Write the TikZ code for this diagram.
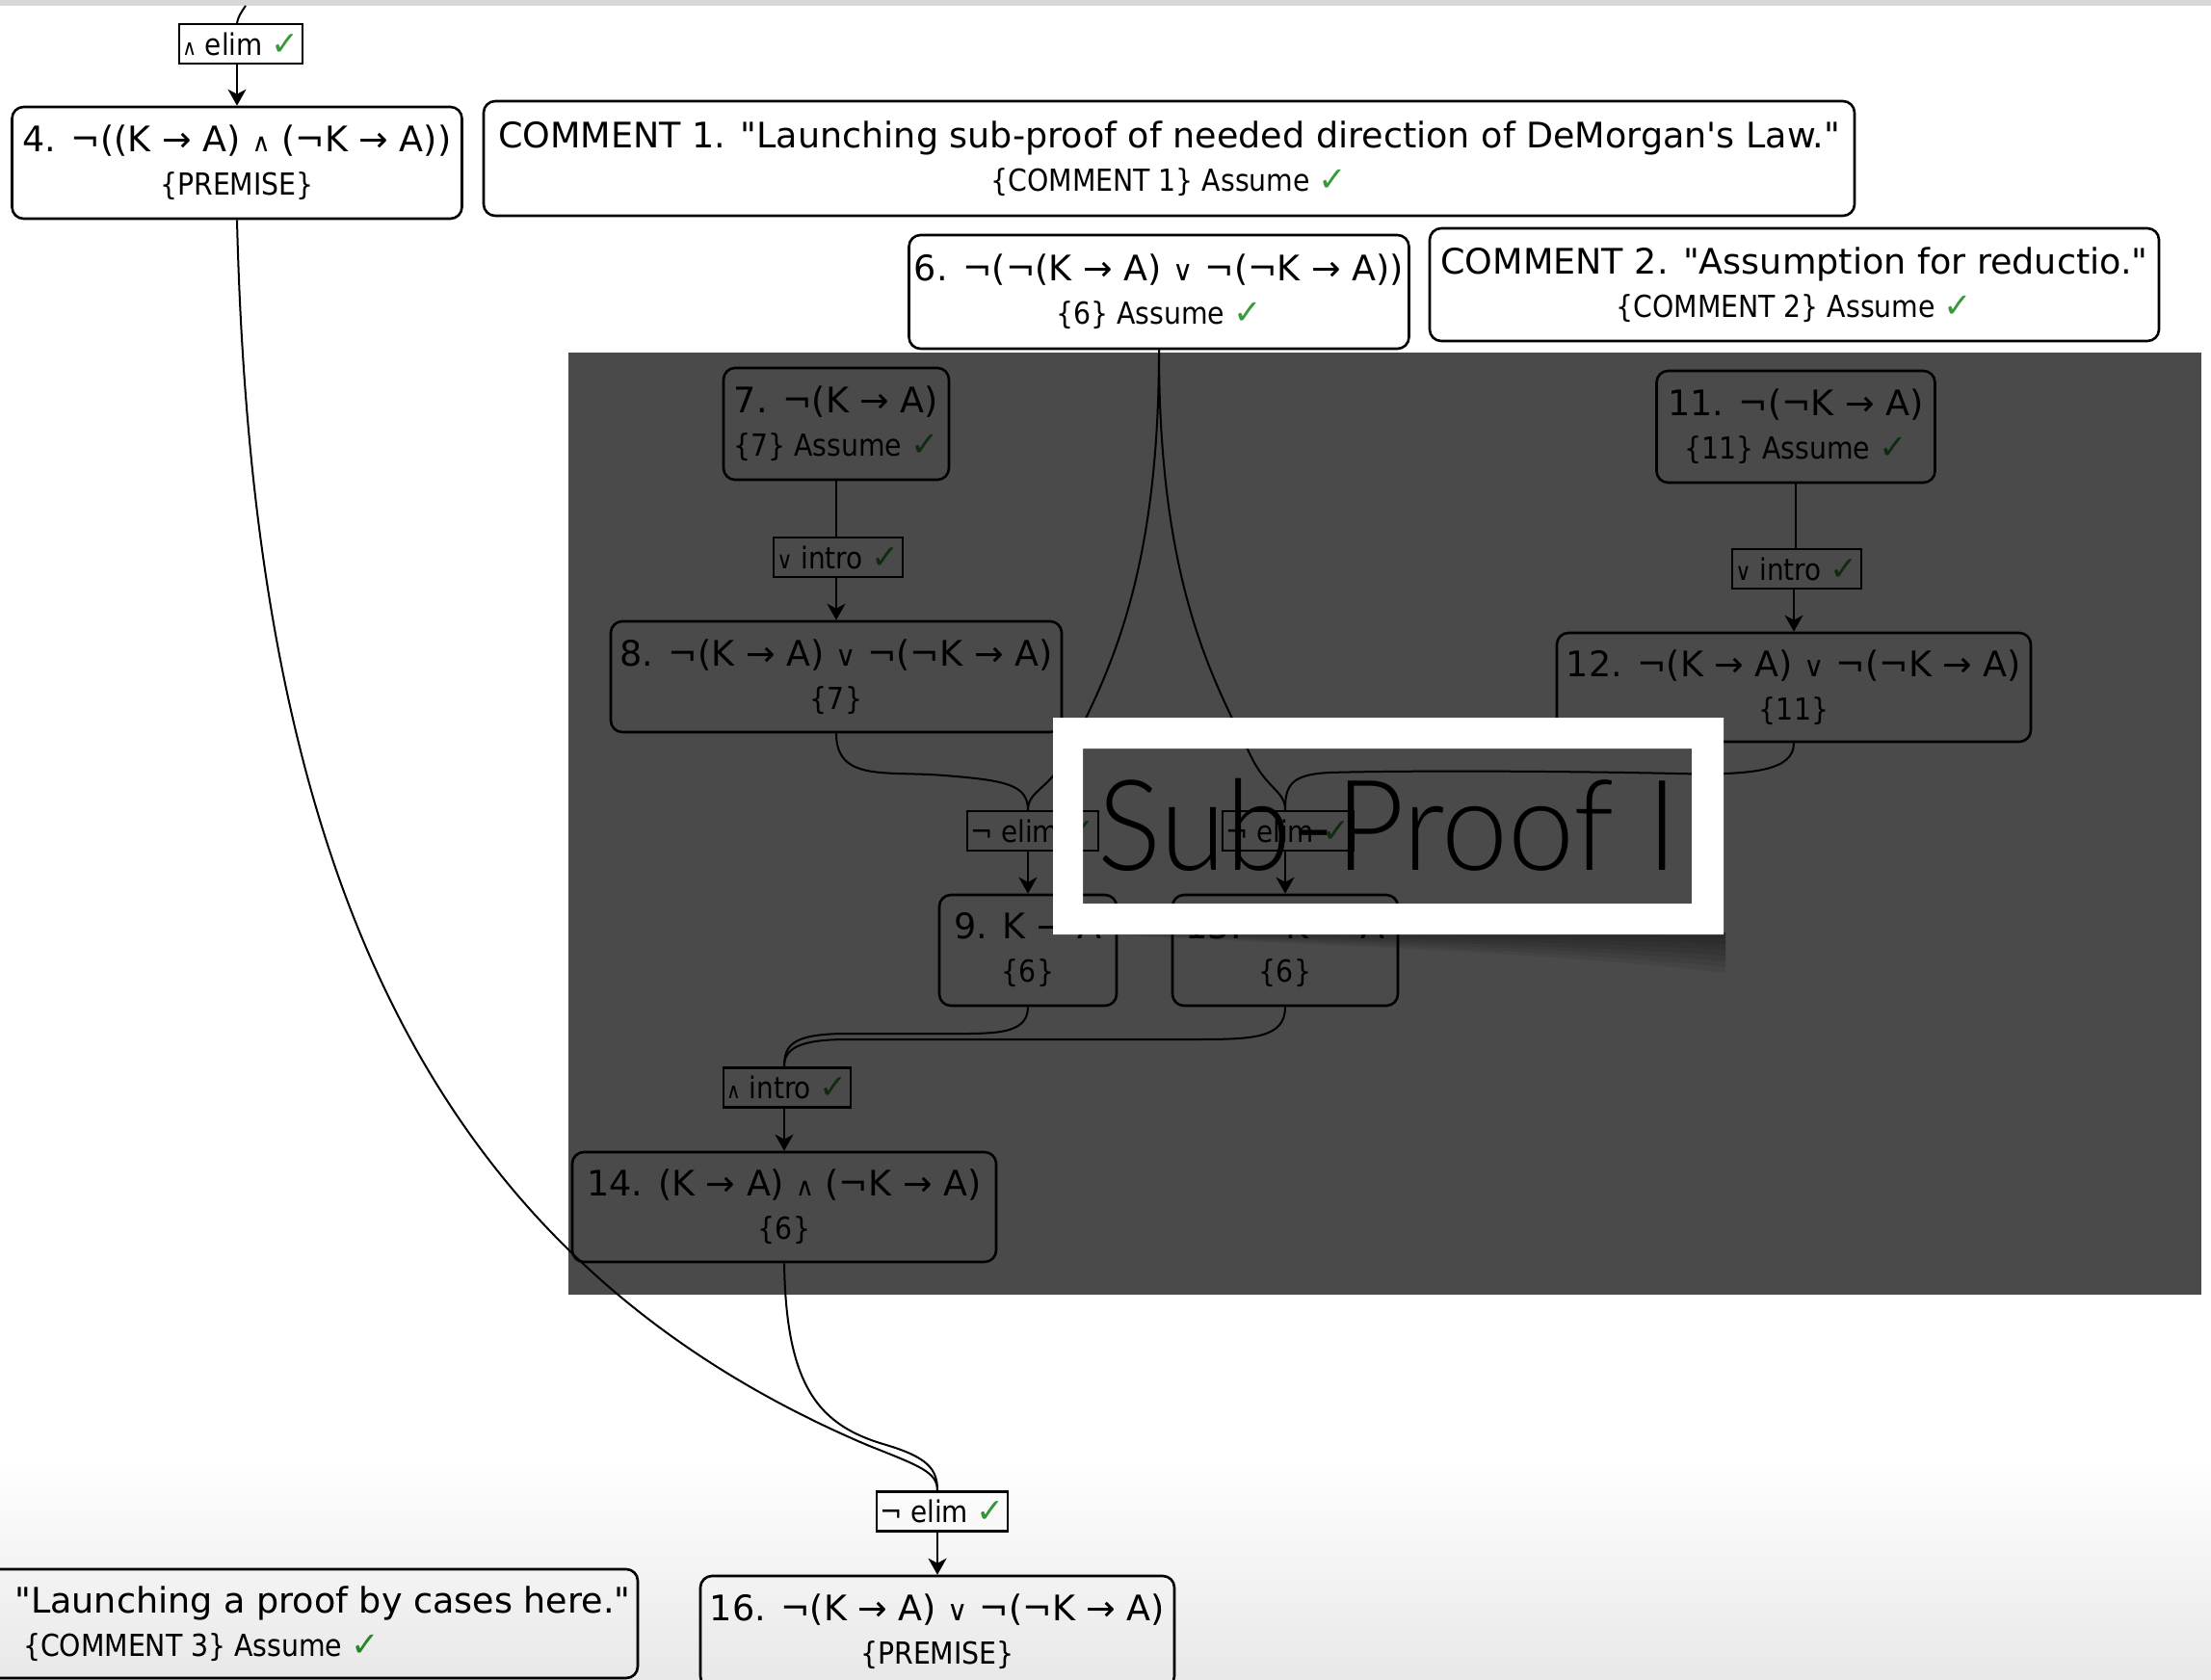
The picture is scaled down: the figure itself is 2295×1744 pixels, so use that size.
\documentclass[tikz,border=0pt]{standalone}
\usepackage{fontspec}
\setmainfont{DejaVu Sans}
\newfontfamily\condf{DejaVu Sans Condensed}
\newfontfamily\symf{DejaVu Sans}
\newfontfamily\thinf{Lato Light}
\usetikzlibrary{arrows.meta}
\definecolor{okgreen}{HTML}{3A9A3A}
\definecolor{barcol}{HTML}{D8D8D8}
\newcommand\gcheck{{\color{okgreen}\symf\scalebox{1.12}{✓}}}
\newcommand\AND{{\scalebox{0.72}{∧}}}
\newcommand\OR{{\scalebox{0.8}{∨}}}
\newcommand\bigf{\fontsize{36.5}{45}\selectfont}
\newcommand\subf{\condf\fontsize{31.5}{45}\selectfont}
\newcommand\rulef{\condf\fontsize{31}{36}\selectfont}
\newcommand\sq{\textquotedbl}
\begin{document}
\begin{tikzpicture}[x=1pt,y=-1pt,
  box/.style={draw, rounded corners=12pt, line width=2.6pt, fill=white, inner sep=0pt, align=center, font=\bigf},
  rulebox/.style={draw, line width=2.2pt, fill=white, inner xsep=3pt, inner ysep=0pt, minimum height=41pt, font=\rulef},
  conn/.style={line width=2pt},
  arr/.style={conn, -{Stealth[length=17pt,width=19pt,inset=5pt]}}]
\useasboundingbox (0,0) rectangle (2295,1744);
\clip (0,0) rectangle (2295,1744);
\fill[white] (0,0) rectangle (2295,1744);
\fill[barcol] (0,0) rectangle (2295,6);

% nodes outside the sub-proof
\node[rulebox] (elimA) at (250,45.5) {\AND{} elim \gcheck};
\node[box, minimum width=467pt, minimum height=116pt] (n4) at (246,169) {4. ¬((K → A) \AND{} (¬K → A))\\{\subf\{PREMISE\}}};
\node[box, minimum width=1423pt, minimum height=119pt] (c1) at (1213.5,164.5) {COMMENT 1. \sq Launching sub-proof of needed direction of DeMorgan\textquotesingle s Law.\sq\\{\subf\{COMMENT 1\} Assume \gcheck}};
\node[box, minimum width=519pt, minimum height=118pt] (n6) at (1203,303) {6. ¬(¬(K → A) \OR{} ¬(¬K → A))\\{\subf\{6\} Assume \gcheck}};
\node[box, minimum width=757pt, minimum height=117pt] (c2) at (1862.5,295.5) {COMMENT 2. \sq Assumption for reductio.\sq\\{\subf\{COMMENT 2\} Assume \gcheck}};

% nodes inside the sub-proof
\node[box, minimum width=234pt, minimum height=116pt] (n7) at (868,440) {7. ¬(K → A)\\{\subf\{7\} Assume \gcheck}};
\node[rulebox] (introA) at (870,578.5) {\OR{} intro \gcheck};
\node[box, minimum width=468pt, minimum height=115pt] (n8) at (868,702.5) {8. ¬(K → A) \OR{} ¬(¬K → A)\\{\subf\{7\}}};
\node[box, minimum width=289pt, minimum height=116pt] (n11) at (1864,443) {11. ¬(¬K → A)\\{\subf\{11\} Assume \gcheck}};
\node[rulebox] (introB) at (1865,590.5) {\OR{} intro \gcheck};
\node[box, minimum width=492pt, minimum height=113pt] (n12) at (1862,713.5) {12. ¬(K → A) \OR{} ¬(¬K → A)\\{\subf\{11\}}};
\node[rulebox] (elimL) at (1072,862.5) {¬ elim \gcheck};
\node[rulebox] (elimR) at (1337,862.5) {¬ elim \gcheck};
\node[box, minimum width=184pt, minimum height=115pt] (n9) at (1067,986.5) {9. K → A\\{\subf\{6\}}};
\node[box, minimum width=234pt, minimum height=115pt] (n13) at (1334,986.5) {13. ¬K → A\\{\subf\{6\}}};
\node[rulebox] (introC) at (817,1129) {\AND{} intro \gcheck};
\node[box, minimum width=440pt, minimum height=114pt] (n14) at (814,1253) {14. (K → A) \AND{} (¬K → A)\\{\subf\{6\}}};

% bottom nodes
\node[rulebox] (elimB) at (978,1569) {¬ elim \gcheck};
\node[box, minimum width=492pt, minimum height=116pt] (n16) at (973,1694) {16. ¬(K → A) \OR{} ¬(¬K → A)\\{\subf\{PREMISE\}}};
\node[box, minimum width=906pt, minimum height=113pt] (c3) at (209,1685.5) {COMMENT 3. \sq Launching a proof by cases here.\sq\\{\subf\{COMMENT 3\} Assume \gcheck}};

% connectors
\coordinate (topin) at (255,6);
\draw[conn] (topin) .. controls (250,13) and (247,18) .. (n4.north |- elimA.north);
\draw[arr] (n4.north |- elimA.south) -- (n4.north);

\draw[conn] (n7.south) -- (n7.south |- introA.north);
\draw[arr] (n8.north |- introA.south) -- (n8.north);
\draw[conn] (n11.south) -- (n11.south |- introB.north);
\draw[arr] (n12.north |- introB.south) -- (n12.north);

\draw[conn] (n8.south) .. controls (868,812) and (920,800) .. (980,805) .. controls (1045,810) and (1067,815) .. (n9.north |- elimL.north);
\draw[conn] (n6.south) .. controls (1203,600) and (1150,700) .. (1110,780) .. controls (1090,820) and (1067,820) .. (n9.north |- elimL.north);
\draw[conn] (n6.south) .. controls (1203,600) and (1256,700) .. (1296,780) .. controls (1314,820) and (1334,820) .. (n13.north |- elimR.north);
\draw[conn] (n12.south) .. controls (1862,800) and (1820,805) .. (1740,803) .. controls (1600,800) and (1450,800) .. (1380,802) .. controls (1340,804) and (1334,815) .. (n13.north |- elimR.north);
\draw[arr] (n9.north |- elimL.south) -- (n9.north);
\draw[arr] (n13.north |- elimR.south) -- (n13.north);

\draw[conn] (n9.south) .. controls (1067,1075) and (1030,1073) .. (980,1073) -- (880,1073) .. controls (822,1073) and (814,1085) .. (n14.north |- introC.north);
\draw[conn] (n13.south) .. controls (1334,1078) and (1300,1079) .. (1240,1079) -- (880,1079) .. controls (826,1079) and (814,1090) .. (n14.north |- introC.north);
\draw[arr] (n14.north |- introC.south) -- (n14.north);

\draw[conn] (n14.south) .. controls (816,1440) and (850,1480) .. (920,1500) .. controls (963,1513) and (973,1525) .. (n16.north |- elimB.north);
\draw[conn] (n4.south) .. controls (262,880) and (430,1300) .. (900,1500) .. controls (955,1522) and (973,1528) .. (n16.north |- elimB.north);
\draw[arr] (n16.north |- elimB.south) -- (n16.north);

% dimming overlay of the sub-proof
\fill[black, opacity=0.71] (590,366) rectangle (2285,1344);

% soft shadow of the label frame
\foreach \d in {6,12,18,24,30,36,42} {
  \fill[black, opacity=0.07] (1093,968) .. controls (1300,{968+0.25*\d}) and (1600,{968+0.45*\d}) .. (1791,{968+\d}) -- (1791,968) -- cycle;
}

% label frame
\fill[white, even odd rule] (1093,745) rectangle (1789,970) (1124,777) rectangle (1756,938);
\node[font=\thinf\fontsize{131}{131}\selectfont, anchor=base west, inner sep=0pt] (sp) at (1139,903) {\scalebox{0.945}[1]{Sub-Proof I}};

% smooth faint darkening at the bottom edge of the window
\foreach \k in {0,...,23} {
  \fill[black, opacity=0.0035] (0,{1520+10*\k}) rectangle (2295,1744);
}
\end{tikzpicture}
\end{document}
